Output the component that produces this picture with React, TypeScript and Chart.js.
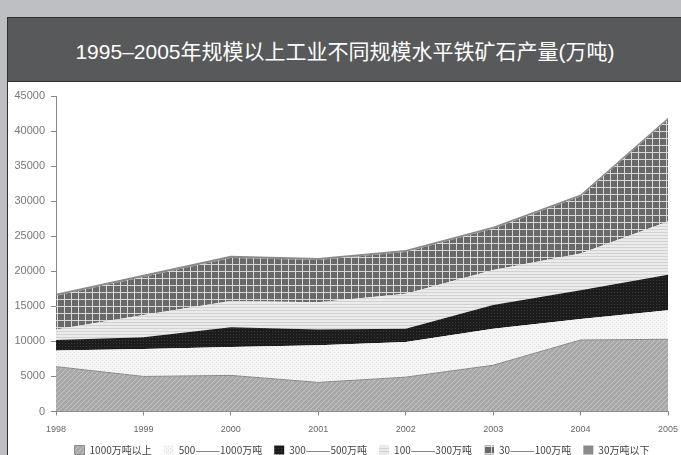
import React, { useEffect, useRef } from "react";
import { Chart, registerables } from "chart.js";

Chart.register(...registerables);

const years = ["1998", "1999", "2000", "2001", "2002", "2003", "2004", "2005"];
const above1000 = [6400, 5000, 5150, 4150, 4900, 6600, 10200, 10300];
const s500to1000 = [2300, 3900, 4050, 5300, 5000, 5200, 3000, 4150];
const s300to500 = [1500, 1700, 2800, 2250, 1900, 3400, 4100, 5050];
const s100to300 = [1500, 3150, 3750, 3900, 5000, 5000, 5250, 7600];
const s30to100 = [4800, 5450, 6150, 6000, 5950, 5850, 8100, 14500];
const below30 = [300, 300, 300, 300, 300, 300, 300, 300];

const seriesNames = [
  "1000万吨以上",
  "500———1000万吨",
  "300———500万吨",
  "100———300万吨",
  "30———100万吨",
  "30万吨以下",
];
const yTicks = [0, 5000, 10000, 15000, 20000, 25000, 30000, 35000, 40000, 45000];

const TITLE = "1995–2005年规模以上工业不同规模水平铁矿石产量(万吨)";

function makePattern(
  ctx: CanvasRenderingContext2D,
  w: number,
  h: number,
  draw: (g: CanvasRenderingContext2D) => void
): CanvasPattern | string {
  const c = document.createElement("canvas");
  c.width = w;
  c.height = h;
  const g = c.getContext("2d") as CanvasRenderingContext2D;
  draw(g);
  return ctx.createPattern(c, "repeat") || "#999";
}

export default function App() {
  const ref = useRef<HTMLCanvasElement | null>(null);

  useEffect(() => {
    const canvas = ref.current;
    if (!canvas) return;
    const ctx = canvas.getContext("2d") as CanvasRenderingContext2D;

    const hatch = makePattern(ctx, 5, 5, (g) => {
      g.fillStyle = "#a8a8a8";
      g.fillRect(0, 0, 5, 5);
      g.fillStyle = "#c6c6c6";
      for (let i = 0; i < 5; i++) g.fillRect(i, 4 - i, 1, 1);
    });
    const whiteDot = makePattern(ctx, 4, 4, (g) => {
      g.fillStyle = "#f6f6f6";
      g.fillRect(0, 0, 4, 4);
      g.fillStyle = "#dcdcdc";
      g.fillRect(0, 0, 1, 1);
      g.fillRect(2, 2, 1, 1);
    });
    const black = makePattern(ctx, 3, 3, (g) => {
      g.fillStyle = "#1c1c1c";
      g.fillRect(0, 0, 3, 3);
      g.fillStyle = "#3c3c3c";
      g.fillRect(0, 0, 1, 1);
    });
    const light = makePattern(ctx, 3, 3, (g) => {
      g.fillStyle = "#ebebeb";
      g.fillRect(0, 0, 3, 3);
      g.fillStyle = "#d2d2d2";
      g.fillRect(0, 0, 3, 1);
    });
    const cross = makePattern(ctx, 7, 7, (g) => {
      g.fillStyle = "#696969";
      g.fillRect(0, 0, 7, 7);
      g.fillStyle = "#d8d8d8";
      g.fillRect(0, 0, 7, 1);
      g.fillRect(0, 0, 1, 7);
    });
    const top = "#8a8a8a";

    const series = [above1000, s500to1000, s300to500, s100to300, s30to100, below30];
    const fills = [hatch, whiteDot, black, light, cross, top];

    const shiftLegend = {
      id: "shiftLegend",
      afterLayout(chart: any) {
        const l = chart.legend;
        if (l) {
          l.left += 24;
          l.right += 24;
        }
      },
    };

    const chart = new Chart(canvas, {
      type: "line",
      data: {
        labels: years,
        datasets: series.map((d, i) => ({
          label: seriesNames[i],
          data: d,
          backgroundColor: fills[i] as any,
          borderColor: i === 0 ? "#8a8a8a" : "rgba(0,0,0,0)",
          borderWidth: i === 0 ? 1 : 0,
          pointRadius: 0,
          tension: 0,
          fill: i === 0 ? "origin" : "-1",
        })),
      },
      plugins: [shiftLegend],
      options: {
        responsive: false,
        animation: false,
        layout: { padding: { left: 0, right: 13, top: 14, bottom: 0 } },
        plugins: {
          legend: {
            position: "bottom",
            labels: {
              boxWidth: 10,
              boxHeight: 9,
              padding: 12,
              color: "#444",
              font: { family: '"Noto Sans CJK SC", sans-serif', size: 10 },
            },
          },
          tooltip: { enabled: false },
        },
        scales: {
          x: {
            offset: false,
            grid: {
              display: true,
              drawOnChartArea: false,
              drawTicks: true,
              tickLength: 4,
              color: "#888",
            },
            border: { display: true, color: "#888" },
            ticks: {
              color: "#666",
              font: { family: '"Liberation Sans", sans-serif', size: 9 },
              padding: 9,
              maxRotation: 0,
              autoSkip: false,
            },
            afterFit: (s: any) => {
              s.height = 21.5;
              s.paddingRight = 0;
              s.paddingLeft = 0;
            },
          },
          y: {
            stacked: true,
            min: 0,
            max: 45000,
            afterBuildTicks: (s: any) => {
              s.ticks = yTicks.map((v) => ({ value: v }));
            },
            grid: {
              display: true,
              drawOnChartArea: false,
              drawTicks: true,
              tickLength: 5,
              color: "#888",
            },
            border: { display: true, color: "#888" },
            ticks: {
              color: "#777",
              font: { family: '"Liberation Sans", sans-serif', size: 11 },
              padding: 6,
              callback: (v: any) => String(v),
            },
            afterFit: (s: any) => {
              s.width = 48;
            },
          },
        },
      },
    });
    return () => chart.destroy();
  }, []);

  return (
    <div
      style={{
        position: "fixed",
        left: 0,
        top: 0,
        width: 681,
        height: 455,
        background: "#bebfc3",
        overflow: "hidden",
      }}
    >
      <div
        style={{
          position: "absolute",
          left: 7,
          top: 17,
          width: 674,
          height: 460,
          borderTop: "1px solid #2e2e2e",
          borderLeft: "1px solid #2e2e2e",
          background: "#fff",
        }}
      >
        <div
          style={{
            height: 63,
            background: "#58595b",
            color: "#fff",
            display: "flex",
            alignItems: "center",
            justifyContent: "center",
            fontFamily: '"Liberation Sans", "Noto Sans CJK SC", sans-serif',
            fontSize: 21,
            borderBottom: "1px solid #2e2e2e",
          }}
        >
          {TITLE}
        </div>
        <canvas ref={ref} width={673} height={383} style={{ display: "block" }} />
      </div>
    </div>
  );
}
